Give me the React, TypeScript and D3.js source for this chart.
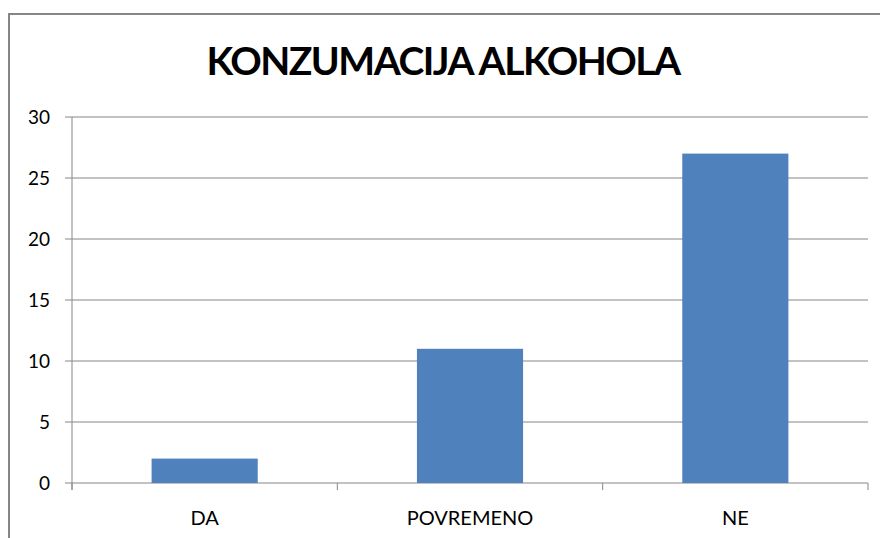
import React from 'react';
import * as d3 from 'd3';

const categories = ['DA', 'POVREMENO', 'NE'];
const values = [2, 11, 27];
const yTicks = [0, 5, 10, 15, 20, 25, 30];
const title = 'KONZUMACIJA ALKOHOLA';

const App = () => {
  const width = 880;
  const height = 538;
  const margin = { top: 117, right: 12, bottom: 55, left: 72 };

  const x = d3
    .scaleBand()
    .domain(categories)
    .range([margin.left, width - margin.right])
    .paddingInner(0.6)
    .paddingOuter(0.3);

  // band edges for the category tick marks
  const step = (width - margin.right - margin.left) / categories.length;

  const y = d3
    .scaleLinear()
    .domain([0, 30])
    .range([height - margin.bottom, margin.top]);

  const font = 'Lato, "Open Sans", sans-serif';
  const gray = '#868686';
  const y0 = y(0);

  return (
    <svg width={width} height={height} style={{ position: 'absolute', left: 0, top: 0, background: '#fff' }}>
      {/* chart border */}
      <rect x={9} y={14} width={width + 20} height={height} fill="none" stroke={gray} strokeWidth={2} />

      <text x={443} y={75} textAnchor="middle" fontFamily={font} fontWeight="bold" fontSize={39} letterSpacing={-1.5} fill="#000">
        {title}
      </text>

      {/* gridlines + y labels */}
      {yTicks.map((t) => (
        <g key={t}>
          <line x1={margin.left - 7} x2={width - margin.right} y1={y(t)} y2={y(t)} stroke={gray} strokeWidth={1} />
          <text x={50} y={y(t)} dy="0.35em" textAnchor="end" fontFamily={font} fontSize={19} fill="#000">
            {t}
          </text>
        </g>
      ))}

      {/* y axis */}
      <line x1={margin.left} x2={margin.left} y1={margin.top} y2={y0 + 7} stroke={gray} />

      {/* x tick marks */}
      {d3.range(categories.length + 1).map((i) => (
        <line key={i} x1={margin.left + i * step} x2={margin.left + i * step} y1={y0} y2={y0 + 7} stroke={gray} />
      ))}

      {/* bars */}
      {categories.map((c, i) => (
        <rect key={c} x={x(c)} y={y(values[i])} width={x.bandwidth()} height={y0 - y(values[i])} fill="#4F81BD" />
      ))}

      {/* x labels */}
      {categories.map((c) => (
        <text key={c} x={(x(c) ?? 0) + x.bandwidth() / 2} y={525} textAnchor="middle" fontFamily={font} fontSize={20} fill="#000">
          {c}
        </text>
      ))}
    </svg>
  );
};

export default App;
